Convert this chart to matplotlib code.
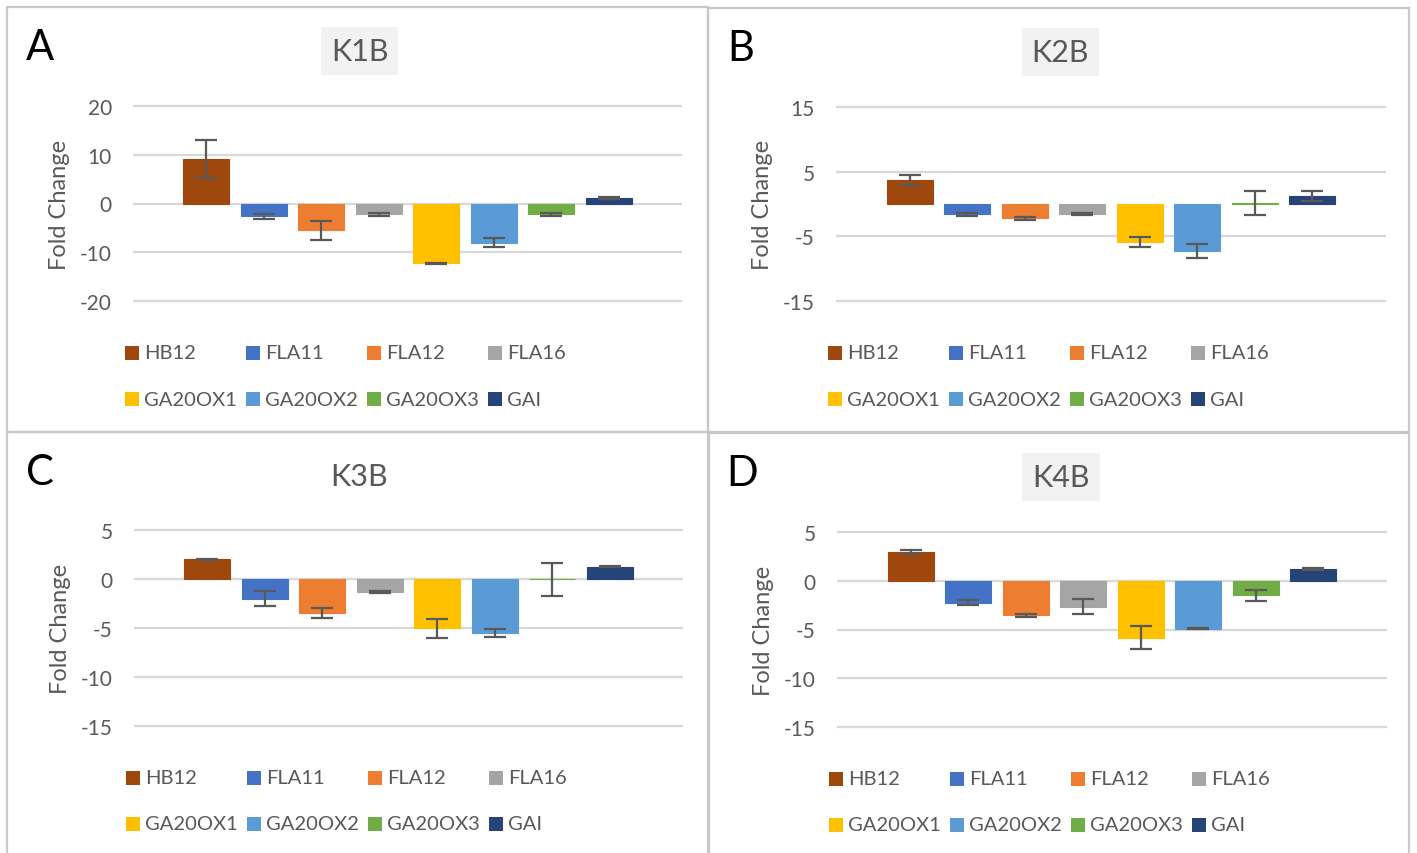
import numpy as np
import matplotlib
matplotlib.use("Agg")
import matplotlib.pyplot as plt
from matplotlib.patches import Rectangle

plt.rcParams["font.family"] = ["Lato", "DejaVu Sans"]
plt.rcParams["axes.unicode_minus"] = False

# Genes and their bar colours
genes = ["HB12", "FLA11", "FLA12", "FLA16", "GA20OX1", "GA20OX2", "GA20OX3", "GAI"]
colors = ["#9E480E", "#4472C4", "#ED7D31", "#A5A5A5",
          "#FFC000", "#5B9BD5", "#70AD47", "#264478"]

# Fold change (mean) and error per line
k1b_mean = [9.2, -2.6, -5.5, -2.25, -12.3, -8.0, -2.25, 1.15]
k1b_err = [3.9, 0.5, 1.9, 0.3, 0.15, 1.0, 0.25, 0.2]

k2b_mean = [3.75, -1.6, -2.2, -1.6, -5.9, -7.3, 0.2, 1.25]
k2b_err = [0.75, 0.2, 0.25, 0.15, 0.75, 1.05, 1.85, 0.75]

k3b_mean = [2.0, -2.0, -3.5, -1.35, -5.05, -5.55, -0.05, 1.25]
k3b_err = [0.05, 0.73, 0.5, 0.1, 1.0, 0.4, 1.7, 0.07]

k4b_mean = [2.95, -2.25, -3.55, -2.65, -5.85, -4.9, -1.5, 1.2]
k4b_err = [0.2, 0.25, 0.15, 0.75, 1.2, 0.05, 0.58, 0.1]

W, H = 1417, 854
fig = plt.figure(figsize=(W / 100, H / 100), dpi=100)

TXT = "#595959"
GRID = "#D9D9D9"


def fx(px):
    return px / W


def fy(py):
    return 1 - py / H


def make_panel(letter, title, boxed, mean, err, yticks, box, ax_px):
    # panel border
    x0, y0, x1, y1 = box
    fig.patches.append(Rectangle((fx(x0), fy(y1)), fx(x1 - x0), (y1 - y0) / H,
                                 transform=fig.transFigure, fill=False,
                                 edgecolor="#C8C8C8", linewidth=1.6))
    left, right, top, bottom = ax_px
    ax = fig.add_axes([fx(left), fy(bottom), fx(right - left), (bottom - top) / H])
    xpos = np.arange(len(genes))
    ax.bar(xpos, mean, width=0.8, color=colors, edgecolor=colors, linewidth=0.8, zorder=2)
    ax.errorbar(xpos, mean, yerr=err, fmt="none", ecolor="#595959",
                elinewidth=1.6, capsize=8, capthick=1.6, zorder=3)
    ax.set_xlim(-1.26, 8.26)
    ax.set_ylim(yticks[0], yticks[-1])
    ax.set_yticks(yticks)
    ax.set_xticks([])
    ax.yaxis.grid(True, color=GRID, linewidth=1.6, zorder=0)
    for gl in ax.get_ygridlines():
        gl.set_clip_on(False)
    ax.set_axisbelow(True)
    for s in ax.spines.values():
        s.set_visible(False)
    ax.tick_params(axis="y", length=0, pad=16, labelsize=15, labelcolor=TXT)
    ax.set_ylabel("Fold Change", fontsize=17, color=TXT)
    ax.yaxis.set_label_coords(-64 / (right - left), 0.5)

    # title and panel letter
    cx = (x0 + x1) / 2
    ty = y0 + 44
    kw = dict(ha="center", va="center", fontsize=22, color=TXT)
    if boxed:
        kw["bbox"] = dict(boxstyle="square,pad=0.32", facecolor="#F2F2F2", edgecolor="none")
    fig.text(fx(cx + 2), fy(ty), title, **kw)
    fig.text(fx(x0 + 33), fy(y0 + 40), letter, ha="center", va="center",
             fontsize=30, color="black")

    # legend, two rows of four
    for i, (g, c) in enumerate(zip(genes, colors)):
        row, col = divmod(i, 4)
        mx = left - 9 + col * 121
        my = bottom + 52 + row * 46
        fig.patches.append(Rectangle((fx(mx), fy(my + 7)), fx(14), 14 / H,
                                     transform=fig.transFigure, facecolor=c,
                                     edgecolor="none"))
        fig.text(fx(mx + 19), fy(my), g, ha="left", va="center",
                 fontsize=14.5, color=TXT)
    return ax


make_panel("A", "K1B", True, k1b_mean, k1b_err, [-20, -10, 0, 10, 20],
           (7, 8, 708, 433), (134, 681, 107, 302))
make_panel("B", "K2B", True, k2b_mean, k2b_err, [-15, -5, 5, 15],
           (708, 9, 1409, 433), (837, 1385, 108, 302))
make_panel("C", "K3B", False, k3b_mean, k3b_err, [-15, -10, -5, 0, 5],
           (7, 433, 708, 870), (135, 682, 531, 727))
make_panel("D", "K4B", True, k4b_mean, k4b_err, [-15, -10, -5, 0, 5],
           (709, 434, 1409, 870), (838, 1386, 533, 728))

fig.savefig("out.png", dpi=100)
